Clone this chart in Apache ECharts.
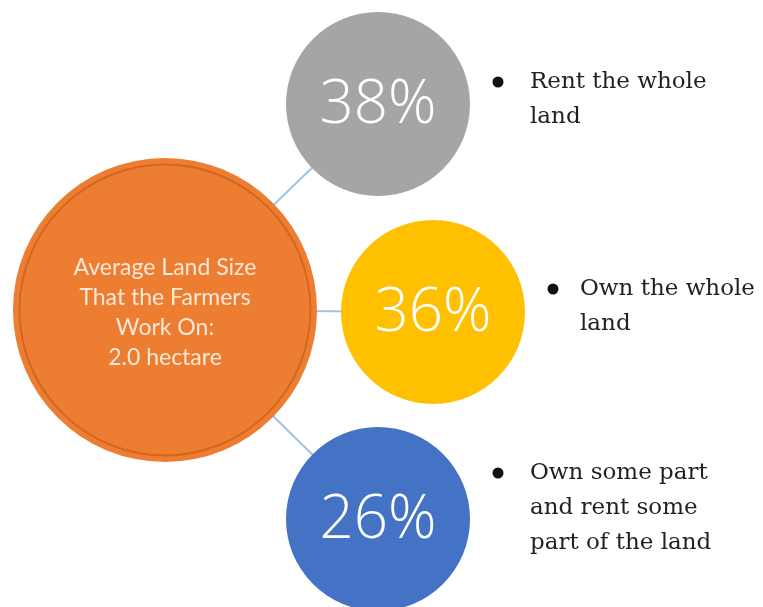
<!DOCTYPE html>
<html>
<head>
<meta charset="utf-8">
<script src="https://cdn.jsdelivr.net/npm/echarts@6/dist/echarts.min.js"></script>
<style>
  html, body { margin: 0; padding: 0; background: #ffffff; }
  #chart { width: 763px; height: 607px; }
</style>
</head>
<body>
<div id="chart"></div>
<script>
// Land tenure of the farmers
const categories = ['Rent the whole land', 'Own the whole land', 'Own some part and rent some part of the land'];
const shares = [38, 36, 26];
const categoryLines = [
  ['Rent the whole', 'land'],
  ['Own the whole', 'land'],
  ['Own some part', 'and rent some', 'part of the land']
];
const hubLines = ['Average Land Size', 'That the Farmers', 'Work On:', '2.0 hectare'];
const colors = ['#a5a5a5', '#ffc000', '#4472c4'];

// Layout, in the pixel space of the hidden axes
const W = 763, H = 607;
const hubPos = [165, 310];
const hubSize = 304;
const bubblePos = [[378, 104], [433, 312], [378, 519]];
const bubbleSize = 184;
const bulletPos = [[498, 82], [553, 289], [498, 473]];
const textX = [530, 580, 530];
const bulletSize = 11;
const lineGap = 35;

const chart = echarts.init(document.getElementById('chart'));

chart.setOption({
  animation: false,
  backgroundColor: '#ffffff',
  grid: { left: 0, right: 0, top: 0, bottom: 0 },
  xAxis: { type: 'value', min: 0, max: W, show: false },
  yAxis: { type: 'value', min: 0, max: H, inverse: true, show: false },
  series: [
    {
      // connectors from the hub to each share bubble
      type: 'lines',
      coordinateSystem: 'cartesian2d',
      silent: true,
      z: 1,
      lineStyle: { color: '#9dc3e6', width: 2, opacity: 1 },
      data: bubblePos.map(p => ({ coords: [hubPos, p] }))
    },
    {
      // hub circle with the average land size
      type: 'scatter',
      silent: true,
      z: 2,
      symbol: 'circle',
      symbolSize: hubSize,
      itemStyle: { color: '#ed7d31', opacity: 1 },
      label: {
        show: true,
        position: 'inside',
        offset: [0, 3],
        formatter: () => hubLines.join('\n'),
        color: '#fde7d9',
        fontFamily: 'Lato',
        fontSize: 23,
        lineHeight: 30
      },
      data: [hubPos]
    },
    {
      // inner ring of the hub
      type: 'scatter',
      silent: true,
      z: 3,
      symbol: 'circle',
      symbolSize: hubSize - 13,
      itemStyle: { color: 'rgba(0,0,0,0)', borderColor: '#c9601c', borderWidth: 2, opacity: 0.75 },
      data: [hubPos]
    },
    {
      // share bubbles
      type: 'scatter',
      silent: true,
      z: 4,
      symbol: 'circle',
      symbolSize: bubbleSize,
      label: {
        show: true,
        position: 'inside',
        offset: [0, 2],
        formatter: p => shares[p.dataIndex] + '%',
        color: '#ffffff',
        fontFamily: 'Open Sans',
        fontWeight: 350,
        fontSize: 60
      },
      data: bubblePos.map((p, i) => ({
        name: categories[i],
        value: p,
        itemStyle: { color: colors[i], opacity: 1 }
      }))
    },
    {
      // bullet list of tenure categories
      type: 'scatter',
      silent: true,
      z: 5,
      symbol: 'circle',
      symbolSize: bulletSize,
      itemStyle: { color: '#111111', opacity: 1 },
      label: {
        show: true,
        formatter: p => categoryLines[p.dataIndex].join('\n'),
        color: '#231f20',
        fontFamily: 'DejaVu Serif',
        fontSize: 23,
        lineHeight: lineGap,
        align: 'left',
        verticalAlign: 'top'
      },
      data: bulletPos.map((p, i) => ({
        name: categories[i],
        value: p,
        label: { position: [textX[i] - p[0] + bulletSize / 2, bulletSize / 2 - lineGap / 2] }
      }))
    }
  ]
});
</script>
</body>
</html>
